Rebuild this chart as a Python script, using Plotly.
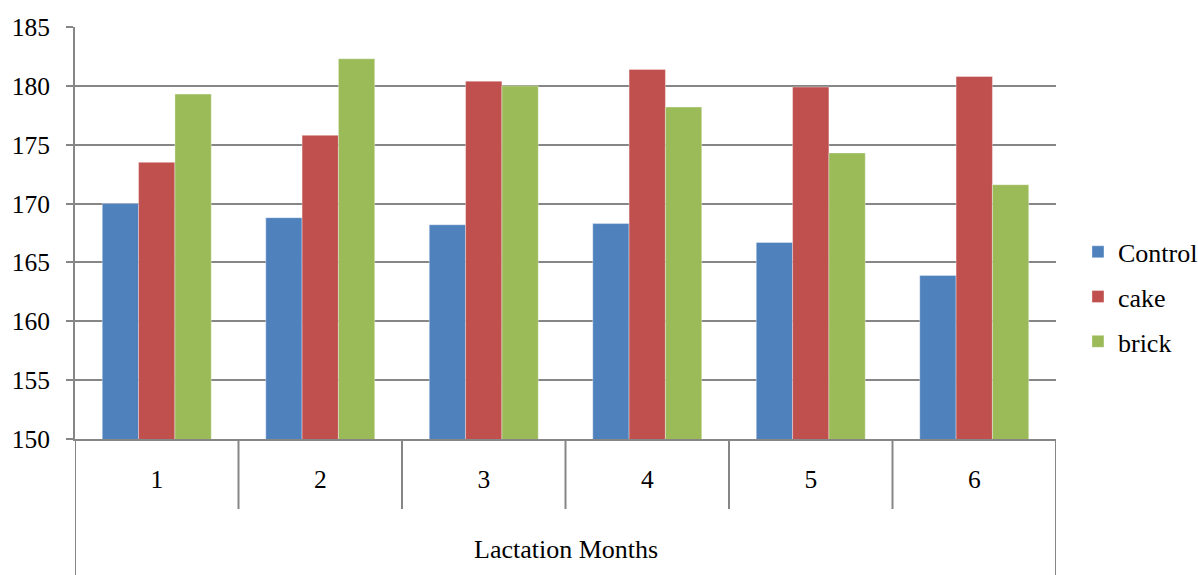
import plotly.graph_objects as go

months = ["1", "2", "3", "4", "5", "6"]
control = [170.0, 168.8, 168.2, 168.3, 166.7, 163.9]
cake = [173.5, 175.8, 180.4, 181.4, 179.9, 180.8]
brick = [179.3, 182.3, 180.0, 178.2, 174.3, 171.6]

series = [
    ("Control", control, "#4F81BD"),
    ("cake", cake, "#C0504D"),
    ("brick", brick, "#9BBB59"),
]

FONT = "'Times New Roman', 'Liberation Serif', serif"
AXIS_GREY = "#868686"
TEXT_SIZE = 26
TICK_SIZE = 25.5

x_pos = list(range(1, len(months) + 1))

fig = go.Figure()
for name, vals, color in series:
    fig.add_trace(go.Bar(
        x=x_pos, y=vals, name=name, legendgroup=name,
        marker=dict(color=color, line=dict(width=0.6, color="rgba(255,255,255,0.6)")),
    ))

# category axis frame: separators between months, outer vertical edges
shapes = []
for i in range(1, len(months)):
    shapes.append(dict(type="line", xref="x", yref="paper",
                       x0=i + 0.5, x1=i + 0.5, y0=0, y1=-0.170,
                       line=dict(color=AXIS_GREY, width=2)))
for xe in (0.5, len(months) + 0.5):
    shapes.append(dict(type="line", xref="x", yref="paper",
                       x0=xe, x1=xe, y0=0, y1=-0.34,
                       line=dict(color=AXIS_GREY, width=2)))

fig.update_layout(
    width=1198, height=575,
    margin=dict(l=75, r=142, t=27, b=136, autoexpand=False),
    paper_bgcolor="white", plot_bgcolor="white",
    barmode="group", bargap=1.5 / 4.5, bargroupgap=0,
    font=dict(family=FONT, size=TEXT_SIZE, color="black"),
    shapes=shapes,
    showlegend=True,
    legend=dict(x=1.0224, xanchor="left", y=0.345, yanchor="middle",
                font=dict(family=FONT, size=TEXT_SIZE, color="black"),
                itemwidth=30, tracegroupgap=8, bgcolor="rgba(0,0,0,0)"),
    annotations=[dict(text="Lactation Months", xref="paper", yref="paper",
                      x=0.5, y=-0.269, xanchor="center", yanchor="middle",
                      showarrow=False, font=dict(family=FONT, size=TEXT_SIZE, color="black"))],
)

fig.update_xaxes(
    range=[0.5, len(months) + 0.5],
    tickvals=x_pos, ticktext=months,
    showgrid=False, zeroline=False,
    showline=True, linecolor=AXIS_GREY, linewidth=2,
    ticks="outside", ticklen=16, tickcolor="rgba(0,0,0,0)",
    tickfont=dict(family=FONT, size=TICK_SIZE, color="black"),
)
fig.update_yaxes(
    range=[150, 185], dtick=5, tick0=150,
    showgrid=True, gridcolor=AXIS_GREY, gridwidth=2,
    zeroline=False,
    showline=True, linecolor=AXIS_GREY, linewidth=2,
    ticks="outside", ticklen=7, tickcolor=AXIS_GREY, tickwidth=2,
    ticklabelstandoff=11,
    tickfont=dict(family=FONT, size=TICK_SIZE, color="black"),
)

fig.write_html("out.html")
